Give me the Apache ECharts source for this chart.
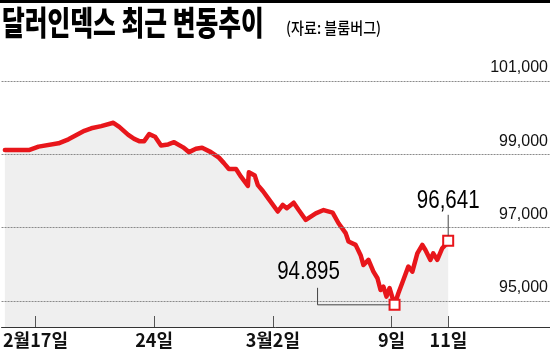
<!DOCTYPE html>
<html>
<head>
<meta charset="utf-8">
<script src="https://cdn.jsdelivr.net/npm/echarts@6/dist/echarts.min.js"></script>
<style>
html,body{margin:0;padding:0;background:#fff;}
#c{width:550px;height:351px;}
</style>
</head>
<body>
<div id="c"></div>
<script>
// x: trading-day index (2월17일 = 0), y: dollar index
const xDays = [-1.29,-0.25,0.13,0.97,1.39,2.06,2.35,2.77,3.28,3.53,3.91,4.16,4.37,4.58,4.79,5.04,5.29,5.59,5.84,6.22,6.47,6.76,7.02,7.39,7.73,7.94,8.15,8.45,8.66,8.95,8.99,9.24,9.37,9.58,9.83,10.21,10.42,10.59,10.88,11.09,11.39,11.81,12.14,12.52,12.77,13.07,13.19,13.49,13.70,13.82,14.03,14.24,14.41,14.54,14.66,14.79,14.92,15.13,15.29,15.50,15.71,15.88,16.09,16.30,16.43,16.64,16.76,16.93,17.14,17.27,17.39];
const dxyValues = [99120,99120,99210,99300,99410,99640,99710,99770,99860,99750,99530,99420,99360,99360,99550,99480,99240,99270,99330,99190,99060,99150,99180,99060,98910,98760,98600,98600,98390,98140,98510,98420,98160,98000,97780,97440,97620,97530,97680,97480,97210,97390,97480,97410,97120,96850,96620,96530,96250,95980,96120,95800,95620,95300,95390,95120,95350,94895,95210,95570,95940,95800,96300,96530,96390,96120,96300,96120,96440,96530,96641];
const xTickValues = [0, 5, 10, 15, 17.4];
const xTickLabels = ['2월17일', '24일', '3월2일', '9일', '11일'];
const yTickValues = [95000, 97000, 99000, 101000];
const yTickLabels = ['95,000', '97,000', '99,000', '101,000'];
const titleText = '달러인덱스 최근 변동추이';
const sourceText = '(자료: 블룸버그)';
const minLabel = '94.895';
const lastLabel = '96,641';

const lineData = xDays.map((x, i) => [x, dxyValues[i]]);
let minIdx = 0;
dxyValues.forEach((v, i) => { if (v < dxyValues[minIdx]) minIdx = i; });
const lastIdx = dxyValues.length - 1;
const markers = [lineData[minIdx], lineData[lastIdx]];

const RED = '#e8161b';
const chart = echarts.init(document.getElementById('c'), null, {renderer: 'canvas'});
const option = {
  animation: false,
  backgroundColor: '#fff',
  grid: {left: 0, right: 0, top: 81, bottom: 24},
  xAxis: {
    type: 'value', min: -1.43, max: 21.68, z: 10,
    splitLine: {show: false},
    axisLine: {show: true, lineStyle: {color: '#333', width: 1}},
    axisTick: {show: true, inside: true, length: 11, customValues: xTickValues, lineStyle: {color: '#555', width: 1}},
    axisLabel: {
      customValues: xTickValues,
      formatter: function (v) { const k = xTickValues.indexOf(v); return k >= 0 ? xTickLabels[k] : ''; },
      margin: 4, color: '#111', fontSize: 18, fontWeight: 'bold',
      fontFamily: '"Liberation Sans Narrow", "Noto Sans CJK KR", sans-serif'
    }
  },
  yAxis: {
    type: 'value', min: 94290, max: 101000, show: false,
    splitLine: {show: false}
  },
  series: [
    {
      type: 'line', data: lineData, showSymbol: false, symbol: 'none',
      lineStyle: {color: RED, width: 4.5, join: 'round', cap: 'round'},
      areaStyle: {color: '#efefef', opacity: 1},
      z: 3,
      markLine: {
        silent: true, symbol: 'none', animation: false,
        lineStyle: {color: '#8a8a8a', type: [2, 1], width: 1},
        label: {
          show: true, position: 'insideEndTop', distance: [2, 5],
          formatter: function (p) { const k = yTickValues.indexOf(p.value); return yTickLabels[k]; },
          color: '#111', fontSize: 16,
          fontFamily: '"Liberation Sans Narrow", sans-serif'
        },
        data: yTickValues.map(v => ({yAxis: v}))
      }
    },
    {
      type: 'scatter', data: markers, symbol: 'rect', symbolSize: 10, z: 5,
      itemStyle: {color: '#fff', borderColor: RED, borderWidth: 2, opacity: 1}
    }
  ]
};
chart.setOption(option);

const pMin = chart.convertToPixel({gridIndex: 0}, markers[0]);
const pLast = chart.convertToPixel({gridIndex: 0}, markers[1]);
const numFont = '25px "Liberation Sans Narrow", sans-serif';
chart.setOption({
  graphic: [
    {type: 'rect', z: 20, shape: {x: 0, y: 0, width: 550, height: 3}, style: {fill: '#000'}},
    {type: 'text', z: 20, x: 2, y: 6, scaleX: 0.75, style: {text: titleText, font: '900 33px "Noto Sans CJK KR"', fill: '#000', textVerticalAlign: 'top'}},
    {type: 'text', z: 20, x: 286, y: 20, scaleX: 0.88, style: {text: sourceText, font: '500 16px "Noto Sans CJK KR"', fill: '#000', textVerticalAlign: 'top'}},
    {type: 'polyline', z: 20, shape: {points: [[pMin[0] - 77, pMin[1] - 17], [pMin[0] - 77, pMin[1]], [pMin[0] - 5, pMin[1]]]}, style: {stroke: '#444', lineWidth: 1, fill: null}},
    {type: 'text', z: 20, x: pMin[0] - 86, y: pMin[1] - 20, scaleX: 0.82, style: {text: minLabel, font: numFont, fill: '#000', textAlign: 'center', textVerticalAlign: 'bottom'}},
    {type: 'line', z: 20, shape: {x1: pLast[0], y1: pLast[1] - 26, x2: pLast[0], y2: pLast[1] - 5}, style: {stroke: '#444', lineWidth: 1}},
    {type: 'text', z: 20, x: pLast[0], y: pLast[1] - 27, scaleX: 0.82, style: {text: lastLabel, font: numFont, fill: '#000', textAlign: 'center', textVerticalAlign: 'bottom'}}
  ]
});
</script>
</body>
</html>
